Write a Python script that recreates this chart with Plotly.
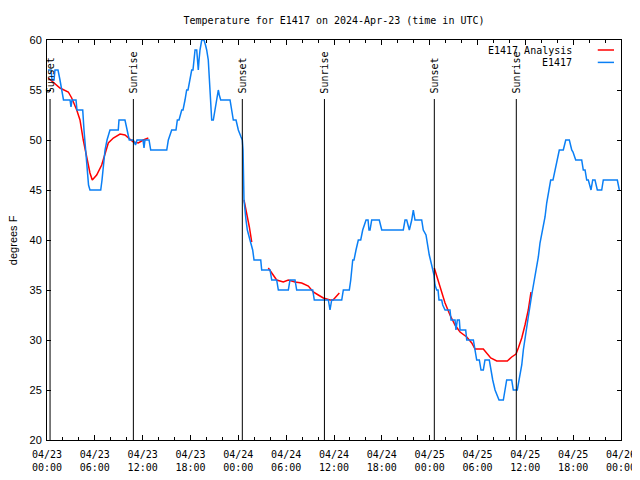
import pandas as pd
import plotly.graph_objects as go

# ---- data (hours after 2024-04-23 00:00 UTC, degrees F) ----
obs_hours = [0.13, 0.50, 0.63, 0.88, 1.00, 1.38, 1.63, 1.88, 2.07, 2.89, 3.01, 3.14, 3.64, 3.76,
             4.48, 4.64, 4.83, 5.02, 5.21, 5.39, 6.74, 6.90, 7.09, 7.28, 7.53, 7.90, 8.94, 9.03,
             9.78, 10.07, 10.32, 10.83, 11.10, 11.29, 12.04, 12.17, 12.29, 12.80, 13.01, 15.02,
             15.22, 15.64, 16.18, 16.35, 16.56, 16.90, 17.06, 17.31, 17.52, 17.69, 17.94, 18.15,
             18.31, 18.48, 18.57, 18.78, 18.88, 18.98, 19.07, 19.19, 19.41, 19.69, 19.88, 20.03,
             20.23, 20.45, 20.66, 20.86, 21.07, 21.29, 21.49, 21.61, 21.79, 22.96, 23.17, 23.37,
             23.71, 24.00, 24.34, 24.50, 24.59, 24.71, 24.96, 25.13, 25.46, 25.80, 25.97, 26.81,
             26.93, 27.98, 28.19, 28.81, 29.02, 30.27, 30.48, 31.11, 31.32, 33.33, 33.53, 35.29,
             35.50, 35.71, 36.97, 37.17, 37.92, 38.10, 38.35, 38.51, 38.76, 39.05, 39.35, 39.60,
             40.02, 40.27, 40.39, 40.52, 40.73, 41.68, 41.99, 44.69, 44.91, 45.12, 45.45, 45.75,
             45.95, 46.16, 47.00, 47.20, 47.54, 47.70, 47.95, 48.25, 48.54, 48.67, 48.88, 49.05,
             49.17, 49.51, 49.64, 49.93, 50.55, 50.68, 51.18, 51.30, 51.47, 51.72, 51.81, 52.52,
             52.65, 53.48, 53.69, 53.90, 54.23, 54.44, 54.73, 54.94, 55.48, 55.66, 55.91, 56.20,
             56.70, 57.24, 57.45, 57.66, 58.29, 58.49, 58.99, 59.21, 59.55, 59.75, 60.09, 60.37,
             60.80, 61.22, 61.63, 61.84, 62.18, 62.47, 62.68, 62.88, 63.18, 63.47, 63.72, 63.94,
             64.26, 64.76, 65.07, 65.52, 65.82, 65.98, 66.32, 67.07, 67.27, 67.49, 67.70, 67.90,
             68.24, 68.45, 68.74, 69.03, 69.58, 69.78, 71.54, 71.79, 71.88]
obs_temp = [57, 57, 56, 56, 57, 57, 56, 55, 54, 54, 53.3, 54, 54, 53,
            53, 51, 49, 47, 45.5, 45, 45, 46, 47.5, 49, 50, 51, 51, 52,
            52, 51, 50, 50, 49.5, 50, 50, 49.2, 50, 50, 49, 49,
            50, 51, 51, 52, 52, 53, 53, 54, 55, 55, 56, 57,
            57, 58, 59, 59, 58, 57, 58, 59, 60, 60, 59.5, 59,
            58, 55, 52, 52, 53, 54, 55, 54.5, 54, 54, 53, 52,
            52, 51, 50.3, 50, 49, 44, 42, 41, 40, 39, 38, 38,
            37, 37, 36, 36, 35, 35, 36, 36, 35, 35, 34, 34,
            33, 34, 34, 35, 35, 36, 38, 38, 39, 40, 40, 41,
            42, 42, 41, 41, 42, 42, 41, 41, 42, 42, 41, 42,
            43, 42, 42, 41, 40.5, 39.5, 38.5, 37.5, 36.5, 35.5, 35, 35,
            34, 34, 33.5, 33, 33, 32, 32, 31, 32, 32, 31, 31,
            30, 30, 29, 28, 28, 27, 27, 28, 28, 27, 26, 25,
            24, 24, 25, 26, 26, 25, 25, 26, 27.5, 29, 31, 32.3,
            34.5, 36.3, 38.3, 39.7, 41, 42.3, 43.7, 44.8, 46, 46, 47, 48,
            49, 49, 50, 50, 49, 48.8, 48, 48, 47, 47, 46, 46,
            45, 46, 46, 45, 45, 46, 46, 45, 45]

ana_hours = [0.16, 0.79, 1.63, 2.67, 3.10, 3.73, 4.14, 4.55, 4.98, 5.39, 5.68, 6.23, 6.86, 7.28,
             7.69, 8.32, 9.16, 9.78, 10.20, 10.83, 11.45, 12.08, 12.71, None,
             24.71, 25.13, 25.38, 25.68, None,
             27.76, 28.19, 28.81, 29.64, 30.27, 31.11, 31.95, 32.78, 33.40, 34.03, 34.66, 35.50,
             35.88, 36.67, None,
             48.58, 49.30, 49.93, 50.55, 51.18, 51.81, 52.65, 53.28, 53.69, 54.73, 55.16, 55.66,
             56.41, 57.74, 58.29, 58.83, 59.12, 59.55, 59.96, 60.37, 60.71]
ana_temp = [56.2, 55.8, 55.2, 54.8, 54.2, 53, 52, 50, 48.3, 46.7, 46, 46.5, 47.5, 48.7,
            49.7, 50.2, 50.6, 50.5, 50.2, 49.8, 49.7, 50, 50.2, None,
            44, 42.5, 41.3, 39.8, None,
            37.2, 36.7, 36, 35.8, 36, 35.8, 35.7, 35.4, 34.8, 34.5, 34.2, 34,
            34, 34.7, None,
            37.2, 35.2, 33.7, 32.5, 31.5, 30.8, 30.3, 29.7, 29.1, 29.1, 28.7, 28.2,
            27.9, 27.9, 28.3, 28.6, 29.2, 30.2, 31.5, 33, 34.8]

sun_times = ["2024-04-23 00:23", "2024-04-23 10:50", "2024-04-24 00:30",
             "2024-04-24 10:48", "2024-04-25 00:35", "2024-04-25 10:52"]
sun_labels = ["Sunset", "Sunrise", "Sunset", "Sunrise", "Sunset", "Sunrise"]

tick_times = ["2024-04-23 00:00", "2024-04-23 06:00", "2024-04-23 12:00", "2024-04-23 18:00",
              "2024-04-24 00:00", "2024-04-24 06:00", "2024-04-24 12:00", "2024-04-24 18:00",
              "2024-04-25 00:00", "2024-04-25 06:00", "2024-04-25 12:00", "2024-04-25 18:00",
              "2024-04-26 00:00"]
tick_text = ["04/23<br>00:00", "04/23<br>06:00", "04/23<br>12:00", "04/23<br>18:00",
             "04/24<br>00:00", "04/24<br>06:00", "04/24<br>12:00", "04/24<br>18:00",
             "04/25<br>00:00", "04/25<br>06:00", "04/25<br>12:00", "04/25<br>18:00",
             "04/26<br>00:00"]
y_ticks = [20, 25, 30, 35, 40, 45, 50, 55, 60]

base = pd.Timestamp("2024-04-23 00:00")


def to_time(hours):
    return [None if h is None else base + pd.Timedelta(hours=h) for h in hours]


RED = "#ff0000"
BLUE = "#0a7ff5"
MONO = "DejaVu Sans Mono"
SANS = "Liberation Sans"

# page body has an 8px default margin: figure is 632x472 so it ends at the window edge
FIG_W, FIG_H = 632, 472

fig = go.Figure()
fig.add_trace(go.Scatter(x=to_time(ana_hours), y=ana_temp, mode="lines", name="E1417 Analysis",
                         line=dict(color=RED, width=1.5), connectgaps=False))
fig.add_trace(go.Scatter(x=to_time(obs_hours), y=obs_temp, mode="lines", name="E1417",
                         line=dict(color=BLUE, width=1.5)))

shapes = []
annotations = []
for t, lab in zip(sun_times, sun_labels):
    shapes.append(dict(type="line", xref="x", yref="paper", x0=t, x1=t, y0=0, y1=0.8525,
                       line=dict(color="black", width=1)))
    annotations.append(dict(x=t, y=0.862, xref="x", yref="paper", text=lab, showarrow=False,
                            textangle=-90, xanchor="center", yanchor="bottom",
                            font=dict(family=MONO, size=10, color="black")))

# custom legend (text right-aligned, sample line on the right, like gnuplot)
leg = [("E1417 Analysis", RED, 0.975), ("E1417", BLUE, 0.944)]
for txt, col, yy in leg:
    annotations.append(dict(x=0.918, y=yy, xref="paper", yref="paper", text=txt, showarrow=False,
                            xanchor="right", yanchor="middle",
                            font=dict(family=MONO, size=10, color="black")))
    shapes.append(dict(type="line", xref="paper", yref="paper", x0=0.9595, x1=0.9878, y0=yy, y1=yy,
                       line=dict(color=col, width=1.5)))

annotations.append(dict(x=-0.059, y=0.5, xref="paper", yref="paper", text="degrees F",
                        showarrow=False, textangle=-90, xanchor="center", yanchor="middle",
                        borderpad=0,
                        font=dict(family=SANS, size=11, color="black")))

fig.update_layout(
    width=FIG_W, height=FIG_H,
    margin=dict(l=39, r=19, t=32, b=40, autoexpand=False),
    paper_bgcolor="white", plot_bgcolor="white",
    showlegend=False,
    title=dict(text="Temperature for E1417 on 2024-Apr-23 (time in UTC)", x=0.5, xref="paper",
               y=1 - 12 / FIG_H, yref="container", xanchor="center", yanchor="middle",
               font=dict(family=MONO, size=10, color="black")),
    shapes=shapes, annotations=annotations,
)
fig.update_xaxes(type="date", range=["2024-04-23 00:00", "2024-04-26 00:00"],
                 tickmode="array", tickvals=tick_times, ticktext=tick_text,
                 ticks="inside", ticklen=5, tickcolor="black", mirror="allticks",
                 showline=True, linecolor="black", linewidth=1, showgrid=False, zeroline=False,
                 ticklabelstandoff=5, automargin=False,
                 tickfont=dict(family=MONO, size=10, color="black"),
                 minor=dict(dtick=7200000, tick0="2024-04-23", ticks="inside", ticklen=3,
                            tickcolor="black", showgrid=False))
fig.update_yaxes(range=[20, 60], tickmode="array", tickvals=y_ticks,
                 ticks="inside", ticklen=4, tickcolor="black", mirror="allticks",
                 showline=True, linecolor="black", linewidth=1, showgrid=False, zeroline=False,
                 ticklabelstandoff=2, automargin=False,
                 tickfont=dict(family=SANS, size=11, color="black"))

fig.write_html("out.html")
